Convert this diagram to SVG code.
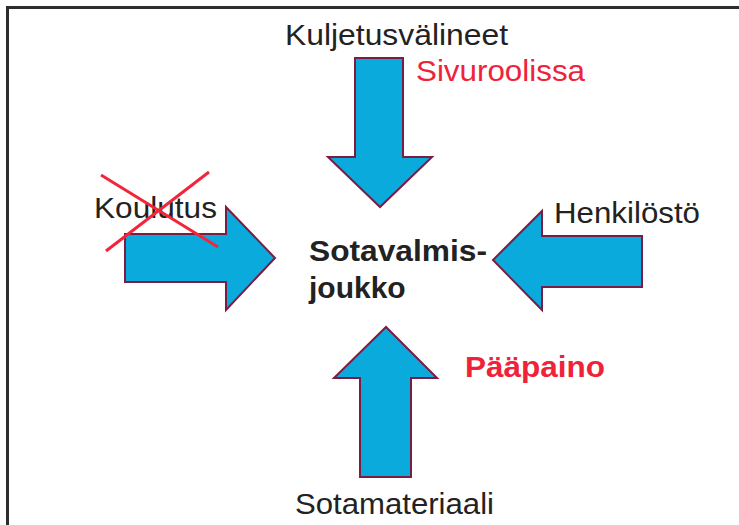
<svg xmlns="http://www.w3.org/2000/svg" width="739" height="525" viewBox="0 0 739 525">
<style>
.bg{fill:#ffffff}
.frame{stroke:#2e2e2e;stroke-width:3;fill:none}
.arrow{fill:#0aabdc;stroke:#7a1c44;stroke-width:2;stroke-linejoin:miter}
.lbl{font-family:"Liberation Sans",Arial,sans-serif;font-size:30px;fill:#222222}
.red{fill:#ee2339}
.bold{font-weight:bold}
.cross{stroke:#f2263a;stroke-width:3;stroke-linecap:butt}
</style>
<rect class="bg" x="0" y="0" width="739" height="525"/>
<path class="frame" d="M7.5 525 V7.5 H739"/>
<g id="connectors">
  <g id="arrow-top"><polygon class="arrow" points="355,58 403,58 403,157 432,157 380,207 328,157 355,157"/></g>
  <g id="arrow-left"><polygon class="arrow" points="125,234 226,234 226,207 275,258 226,310 226,282 125,282"/></g>
  <g id="arrow-right"><polygon class="arrow" points="642,236 542,236 542,211 493,260 542,310 542,287 642,287"/></g>
  <g id="arrow-bottom"><polygon class="arrow" points="360,477 360,378 334,378 386,327 437,378 411,378 411,477"/></g>
</g>
<g id="kuljetusvalineet">
  <text class="lbl" x="285" y="45" textLength="223" lengthAdjust="spacingAndGlyphs">Kuljetusvälineet</text>
  <text class="lbl red" x="416" y="81" textLength="169" lengthAdjust="spacingAndGlyphs">Sivuroolissa</text>
</g>
<g id="koulutus">
  <text class="lbl" x="94" y="218" textLength="123" lengthAdjust="spacingAndGlyphs">Koulutus</text>
  <line class="cross" x1="101" y1="175" x2="218" y2="247"/>
  <line class="cross" x1="209" y1="172" x2="106" y2="251"/>
</g>
<g id="henkilosto">
  <text class="lbl" x="554" y="223" textLength="146" lengthAdjust="spacingAndGlyphs">Henkilöstö</text>
</g>
<g id="sotamateriaali">
  <text class="lbl" x="295" y="514" textLength="199" lengthAdjust="spacingAndGlyphs">Sotamateriaali</text>
  <text class="lbl red bold" x="465" y="377" textLength="140" lengthAdjust="spacingAndGlyphs">Pääpaino</text>
</g>
<g id="sotavalmisjoukko">
  <text class="lbl bold" x="309" y="261" textLength="178" lengthAdjust="spacingAndGlyphs">Sotavalmis-</text>
  <text class="lbl bold" x="309" y="298">joukko</text>
</g>
</svg>
